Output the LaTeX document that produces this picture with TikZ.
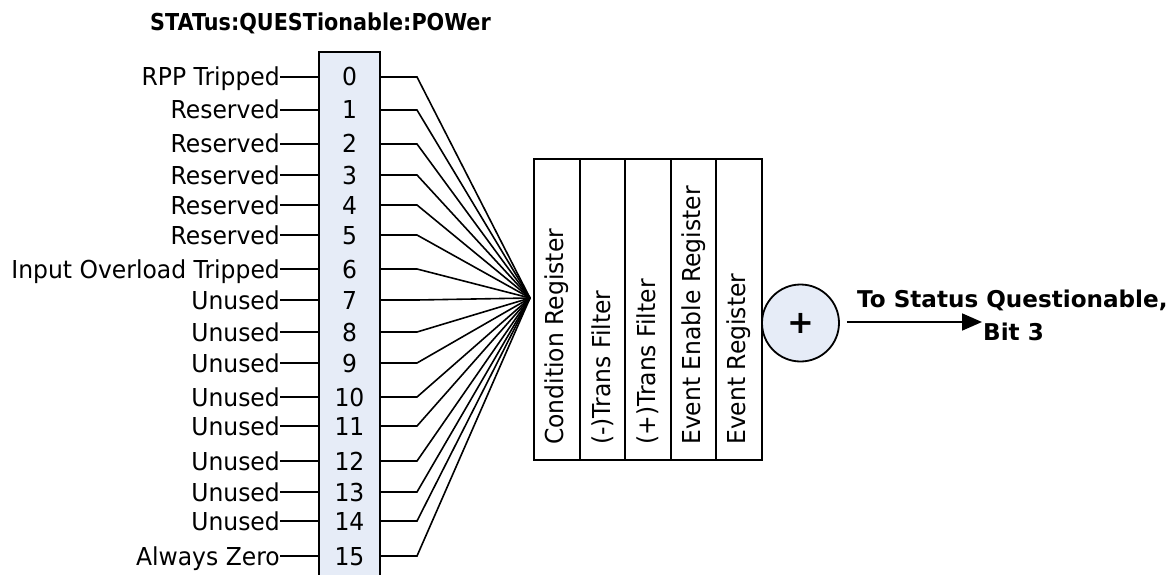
\documentclass[tikz,border=0pt]{standalone}
\usepackage{fontspec}
\setmainfont{DejaVu Sans}[FakeStretch=0.95]
\newfontfamily\titlefont{DejaVu Sans}[FakeStretch=0.89]
\newfontfamily\plainfont{DejaVu Sans}
\usetikzlibrary{arrows.meta}
\definecolor{boxfill}{HTML}{E6ECF7}
\tikzset{
  lbl/.style={anchor=base east, inner sep=0pt, font=\fontsize{24.7}{27}\selectfont},
  bitnum/.style={anchor=base, inner sep=0pt, font=\fontsize{24.7}{27}\selectfont},
  regtxt/.style={rotate=90, anchor=west, inner sep=0pt, font=\fontsize{24.7}{27}\selectfont},
  wire/.style={line width=1.6pt},
  frame/.style={line width=1.8pt},
  boldtxt/.style={inner sep=0pt, anchor=base west, font=\plainfont\bfseries\fontsize{23.1}{25}\selectfont},
}
\begin{document}
\begin{tikzpicture}[x=1pt,y=-1pt]
\useasboundingbox (0,0) rectangle (1175,575);
% title
\node[inner sep=0pt, anchor=base west, font=\titlefont\bfseries\fontsize{23.3}{26}\selectfont] (title) at (150,31) {STATus:QUESTionable:POWer};
% bit box
\draw[frame, fill=boxfill] (319,52) rectangle (380,600);
\coordinate (conv) at (530,298);
\foreach \i/\y/\t in {0/77/RPP Tripped,1/110/Reserved,2/144/Reserved,3/175/Reserved,4/205/Reserved,5/235/Reserved,6/269/Input Overload Tripped,7/300/Unused,8/332/Unused,9/363/Unused,10/397/Unused,11/426/Unused,12/461/Unused,13/492/Unused,14/521/Unused,15/556/Always Zero}{
  \node[lbl] (l\i) at (280,\y+9) {\t};
  \node[bitnum] (b\i) at (349.5,\y+9) {\i};
  \coordinate (le\i) at (280,\y);
  \coordinate (li\i) at (319,\y);
  \coordinate (ro\i) at (380,\y);
  \coordinate (bd\i) at (417,\y);
  \draw[wire] (le\i) -- (li\i);
  \draw[wire] (ro\i) -- (bd\i) -- (conv);
}
% register block
\draw[frame] (534,159) rectangle (762,460);
\foreach \x in {580,625,671,716}{\draw[frame] (\x,159) -- (\x,460);}
\node[regtxt] (r1) at (557,445) {Condition Register};
\node[regtxt] (r2) at (602.5,445) {(-)Trans Filter};
\node[regtxt] (r3) at (648,445) {(+)Trans Filter};
\node[regtxt] (r4) at (693.5,445) {Event Enable Register};
\node[regtxt] (r5) at (739,445) {Event Register};
% summation circle
\node[circle, draw, frame, fill=boxfill, minimum size=77pt, inner sep=0pt, font=\plainfont\bfseries\fontsize{32}{34}\selectfont] (sum) at (800.5,323) {+};
\coordinate (tip) at (982,322);
\draw[line width=1.8pt, -{Triangle[length=20pt,width=17pt]}] (sum.east) ++(7,-1) -- (tip);
\node[boldtxt] (out1) at (857,307) {To Status Questionable,};
\node[boldtxt] (out2) at (983,340) {Bit 3};
\end{tikzpicture}
\end{document}
